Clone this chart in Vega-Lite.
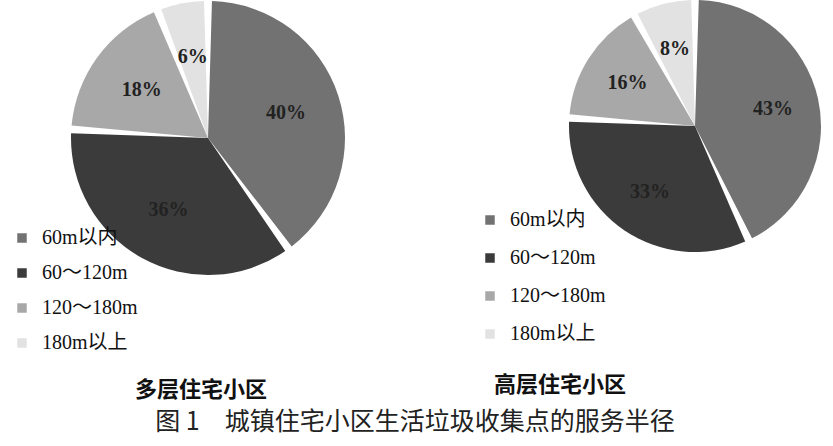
{
  "$schema": "https://vega.github.io/schema/vega-lite/v6.json",
  "padding": 0,
  "background": "white",
  "config": {"view": {"stroke": null}},
  "title": {"text": "图 1　城镇住宅小区生活垃圾收集点的服务半径", "orient": "bottom", "anchor": "middle", "font": "Noto Sans CJK SC", "fontSize": 25, "fontWeight": "normal", "color": "#222", "offset": 9, "dx": 4},
  "bounds": "flush",
  "spacing": 152,
  "resolve": {"scale": {"color": "independent"}},
  "hconcat": [
    {
      "width": 416,
      "height": 276,
      "title": {"text": "多层住宅小区", "orient": "bottom", "anchor": "middle", "offset": 27, "dx": -7, "fontSize": 22, "fontWeight": "bold", "font": "Noto Sans CJK SC", "color": "#111"},
      "data": {"values": [
        {"k": 1, "cat": "60m以内", "share": 0.40},
        {"k": 2, "cat": "60～120m", "share": 0.36},
        {"k": 3, "cat": "120～180m", "share": 0.18},
        {"k": 4, "cat": "180m以上", "share": 0.06}
      ]},
      "encoding": {
        "theta": {"field": "share", "type": "quantitative", "stack": true},
        "order": {"field": "k", "type": "quantitative"}
      },
      "layer": [
        {
          "mark": {"type": "arc", "radius": 137, "padAngle": 0.058},
          "encoding": {
            "color": {"field": "cat", "type": "nominal",
              "scale": {"domain": ["60m以内", "60～120m", "120～180m", "180m以上"], "range": ["#727272", "#3b3b3b", "#a8a8a8", "#e2e2e2"]},
              "legend": {"orient": "none", "legendX": 12, "legendY": 228, "title": null, "symbolType": "square", "symbolSize": 90, "symbolStrokeWidth": 0, "labelFontSize": 20, "labelFont": "Liberation Serif, Noto Sans CJK SC", "labelColor": "#111", "rowPadding": 15, "labelOffset": 10, "padding": 0}
            }
          }
        },
        {
          "mark": {"type": "text", "radius": 82, "font": "Liberation Serif", "fontSize": 20, "fontWeight": "bold", "color": "#222"},
          "encoding": {"text": {"field": "share", "type": "quantitative", "format": ".0%"}}
        }
      ]
    },
    {
      "width": 254,
      "height": 252,
      "title": {"text": "高层住宅小区", "orient": "bottom", "anchor": "middle", "offset": 31, "dx": -135, "fontSize": 22, "fontWeight": "bold", "font": "Noto Sans CJK SC", "color": "#111"},
      "data": {"values": [
        {"k": 1, "cat": "60m以内", "share": 0.43},
        {"k": 2, "cat": "60～120m", "share": 0.33},
        {"k": 3, "cat": "120～180m", "share": 0.16},
        {"k": 4, "cat": "180m以上", "share": 0.08}
      ]},
      "encoding": {
        "theta": {"field": "share", "type": "quantitative", "stack": true},
        "order": {"field": "k", "type": "quantitative"}
      },
      "layer": [
        {
          "mark": {"type": "arc", "radius": 126, "padAngle": 0.06},
          "encoding": {
            "color": {"field": "cat", "type": "nominal",
              "scale": {"domain": ["60m以内", "60～120m", "120～180m", "180m以上"], "range": ["#727272", "#3b3b3b", "#a8a8a8", "#e2e2e2"]},
              "legend": {"orient": "none", "legendX": -88, "legendY": 210, "title": null, "symbolType": "square", "symbolSize": 90, "symbolStrokeWidth": 0, "labelFontSize": 20, "labelFont": "Liberation Serif, Noto Sans CJK SC", "labelColor": "#111", "rowPadding": 18, "labelOffset": 10, "padding": 0}
            }
          }
        },
        {
          "mark": {"type": "text", "radius": 80, "font": "Liberation Serif", "fontSize": 20, "fontWeight": "bold", "color": "#222"},
          "encoding": {"text": {"field": "share", "type": "quantitative", "format": ".0%"}}
        }
      ]
    }
  ]
}
